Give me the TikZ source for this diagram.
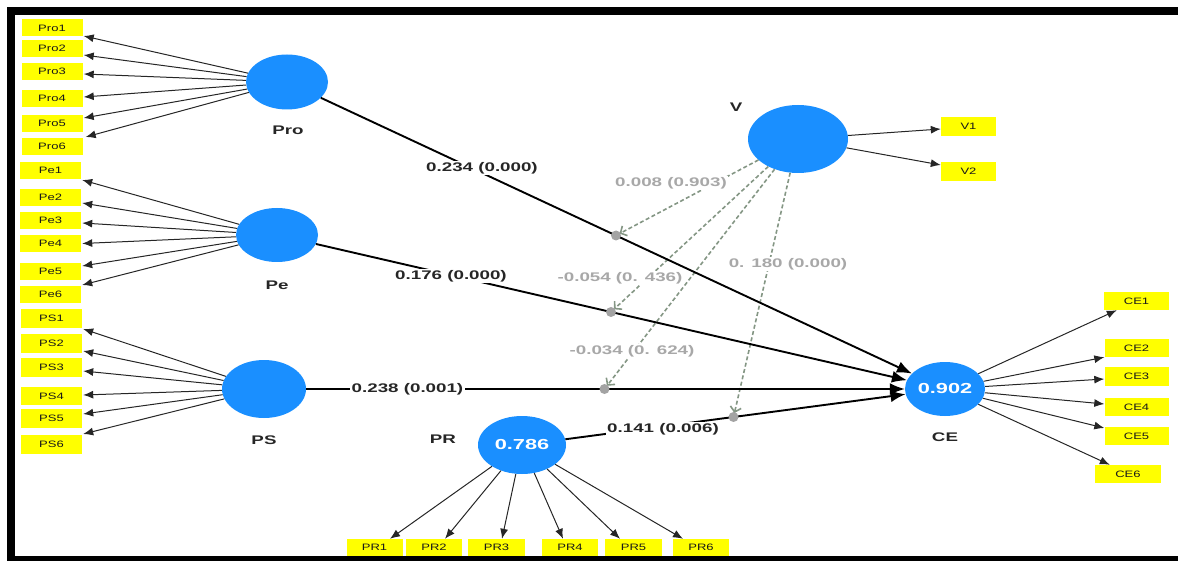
\documentclass[tikz,border=0pt]{standalone}
\usepackage{fontspec}
\newfontfamily\wsans[FakeStretch=1.5]{Liberation Sans}
\newfontfamily\isans[FakeStretch=1.4]{Liberation Sans}
\usetikzlibrary{shapes.geometric,arrows.meta,calc}
\definecolor{lvblue}{HTML}{1A8FFF}
\definecolor{indyellow}{HTML}{FFFF00}
\definecolor{modline}{HTML}{849684}
\definecolor{modtext}{HTML}{A8A8A8}
\definecolor{moddot}{HTML}{A3A3A3}
\begin{document}
\begin{tikzpicture}[x=1pt,y=-1pt,
  latent/.style={ellipse, fill=lvblue, inner sep=0pt, text=white,
    font=\wsans\bfseries\fontsize{14.5}{16}\selectfont},
  indicator/.style={fill=indyellow, minimum width=61, minimum height=17,
    inner sep=0pt, text=black!90, font=\isans\fontsize{9.3}{10}\selectfont},
  loading/.style={draw=black!85, line width=1pt, -{Latex[length=10pt,width=8pt]}},
  structpath/.style={draw=black, line width=1.9pt, -{Latex[length=15pt,width=12pt]}},
  modarrow/.style={draw=modline, line width=1.6pt, dash pattern=on 4pt off 2.5pt,
    -{Straight Barb[length=5pt,width=11pt]}, shorten >=4pt},
  coef/.style={fill=white, inner sep=1.5pt, text=black!85,
    font=\wsans\bfseries\fontsize{12.5}{14}\selectfont},
  modcoef/.style={coef, text=modtext},
  lvname/.style={text=black!85, font=\wsans\bfseries\fontsize{12.5}{14}\selectfont},
  moddotstyle/.style={circle, fill=moddot, minimum size=10, inner sep=0pt}
]
\useasboundingbox (0,0) rectangle (1178,561);

% indicator boxes
\node[indicator] (Pro1) at (52,28) {Pro1};
\node[indicator] (Pro2) at (52,48.5) {Pro2};
\node[indicator] (Pro3) at (52,71.5) {Pro3};
\node[indicator] (Pro4) at (52,98.5) {Pro4};
\node[indicator] (Pro5) at (52,123.5) {Pro5};
\node[indicator] (Pro6) at (52,146.5) {Pro6};
\node[indicator] (Pe1) at (50.5,170.5) {Pe1};
\node[indicator] (Pe2) at (50.5,197.5) {Pe2};
\node[indicator] (Pe3) at (50.5,220.5) {Pe3};
\node[indicator] (Pe4) at (50.5,243.5) {Pe4};
\node[indicator] (Pe5) at (50.5,271.5) {Pe5};
\node[indicator] (Pe6) at (50.5,294.5) {Pe6};
\node[indicator, minimum height=19] (PS1) at (51.5,318.5) {PS1};
\node[indicator, minimum height=19] (PS2) at (51.5,343.5) {PS2};
\node[indicator, minimum height=19] (PS3) at (51.5,367.5) {PS3};
\node[indicator, minimum height=18] (PS4) at (51.5,396) {PS4};
\node[indicator, minimum height=19] (PS5) at (51.5,418.5) {PS5};
\node[indicator, minimum height=19] (PS6) at (51.5,444.5) {PS6};
\node[indicator, minimum width=56] (PR1) at (374.5,547.5) {PR1};
\node[indicator, minimum width=56] (PR2) at (434,547.5) {PR2};
\node[indicator, minimum width=57] (PR3) at (496.5,547.5) {PR3};
\node[indicator, minimum width=56] (PR4) at (570,547.5) {PR4};
\node[indicator, minimum width=57] (PR5) at (633.5,547.5) {PR5};
\node[indicator, minimum width=56] (PR6) at (701,547.5) {PR6};
\node[indicator, minimum width=55, minimum height=19] (V1) at (968.5,126.5) {V1};
\node[indicator, minimum width=55, minimum height=19] (V2) at (968.5,171.5) {V2};
\node[indicator, minimum width=65, minimum height=18] (CE1) at (1136.5,301) {CE1};
\node[indicator, minimum width=64, minimum height=18] (CE2) at (1136.5,348) {CE2};
\node[indicator, minimum width=64, minimum height=19] (CE3) at (1136.5,376.5) {CE3};
\node[indicator, minimum width=64, minimum height=18] (CE4) at (1136.5,407) {CE4};
\node[indicator, minimum width=64, minimum height=18] (CE5) at (1136.5,436) {CE5};
\node[indicator, minimum width=66, minimum height=18] (CE6) at (1128,474) {CE6};

% latent variables
\node[latent, minimum width=82, minimum height=55] (Pro) at (287,82) {};
\node[latent, minimum width=82, minimum height=54] (Pe) at (277,235) {};
\node[latent, minimum width=84, minimum height=58] (PS) at (264,389) {};
\node[latent, minimum width=88, minimum height=58] (PR) at (522,445) {0.786};
\node[latent, minimum width=100, minimum height=68] (V) at (798,139) {};
\node[latent, minimum width=80, minimum height=54] (CE) at (945,389) {0.902};

% outer loadings
\draw[loading] (Pro) -- ([xshift=1,yshift=-8]Pro1.east);
\draw[loading] (Pro) -- ([xshift=1,yshift=-6.5]Pro2.east);
\draw[loading] (Pro) -- ([xshift=1,yshift=-2.5]Pro3.east);
\draw[loading] (Pro) -- ([xshift=1,yshift=1.5]Pro4.east);
\draw[loading] (Pro) -- ([xshift=1,yshift=5.5]Pro5.east);
\draw[loading] (Pro) -- ([xshift=3,yshift=9.5]Pro6.east);
\draw[loading] (Pe) -- ([xshift=1,yshift=-9.5]Pe1.east);
\draw[loading] (Pe) -- ([xshift=1,yshift=-5.5]Pe2.east);
\draw[loading] (Pe) -- ([xshift=1,yshift=-2.5]Pe3.east);
\draw[loading] (Pe) -- ([xshift=1]Pe4.east);
\draw[loading] (Pe) -- ([xshift=1,yshift=5.5]Pe5.east);
\draw[loading] (Pe) -- ([xshift=1,yshift=9.5]Pe6.east);
\draw[loading] (PS) -- ([xshift=1,yshift=-10.5]PS1.east);
\draw[loading] (PS) -- ([xshift=1,yshift=-7.5]PS2.east);
\draw[loading] (PS) -- ([xshift=1,yshift=-3.5]PS3.east);
\draw[loading] (PS) -- ([xshift=1,yshift=1]PS4.east);
\draw[loading] (PS) -- ([xshift=1,yshift=4.5]PS5.east);
\draw[loading] (PS) -- ([xshift=1,yshift=10.5]PS6.east);
\draw[loading] (PR) -- ([xshift=15.5]PR1.north);
\draw[loading] (PR) -- ([xshift=11]PR2.north);
\draw[loading] (PR) -- ([xshift=5.5]PR3.north);
\draw[loading] (PR) -- ([xshift=-7]PR4.north);
\draw[loading] (PR) -- ([xshift=-13.5]PR5.north);
\draw[loading] (PR) -- ([xshift=-18]PR6.north);
\draw[loading] (V) -- ([yshift=-2.5]V1.west);
\draw[loading] (V) -- ([yshift=6.5]V2.west);
\draw[loading] (CE) -- ([xshift=13]CE1.south west);
\draw[loading] (CE) -- (CE2.south west);
\draw[loading] (CE) -- ([yshift=-2.5]CE3.west);
\draw[loading] (CE) -- ([yshift=3]CE4.west);
\draw[loading] (CE) -- ([yshift=8]CE5.west);
\draw[loading] (CE) -- ([xshift=15]CE6.north west);

% moderating effects meet the paths at their midpoints
\coordinate (m1) at ($(Pro)!0.5!(CE)$);
\coordinate (m2) at ($(Pe)!0.5!(CE)$);
\coordinate (m3) at ($(PS)!0.5!(CE)$);
\coordinate (m4) at ($(PR)!0.5!(CE)$);
\draw[modarrow] (V) -- (m1);
\draw[modarrow] (V) -- (m2);
\draw[modarrow] (V) -- (m3);
\draw[modarrow] (V) -- (m4);

% structural paths
\draw[structpath] (Pro) -- (CE);
\draw[structpath] (Pe) -- (CE);
\draw[structpath] (PS) -- (CE);
\draw[structpath] (PR) -- (CE);

\node[moddotstyle] (d1) at (m1) {};
\node[moddotstyle] (d2) at (m2) {};
\node[moddotstyle] (d3) at (m3) {};
\node[moddotstyle] (d4) at (m4) {};

% path coefficients
\node[coef] (c1) at (482,168) {0.234 (0.000)};
\node[coef] (c2) at (451,276) {0.176 (0.000)};
\node[coef] (c3) at (407.5,389) {0.238 (0.001)};
\node[coef] (c4) at (663,429) {0.141 (0.006)};
\node[modcoef] (c5) at (671,183) {0.008 (0.903)};
\node[modcoef] (c6) at (620,278) {-0.054 (0. 436)};
\node[modcoef] (c7) at (632,351) {-0.034 (0. 624)};
\node[modcoef] (c8) at (788,264) {0. 180 (0.000)};

% latent variable names
\node[lvname] (nPro) at (288,130) {Pro};
\node[lvname] (nPe) at (277,285) {Pe};
\node[lvname] (nPS) at (264,440) {PS};
\node[lvname] (nPR) at (443,439) {PR};
\node[lvname] (nV) at (736,107) {V};
\node[lvname] (nCE) at (945,437) {CE};

% frame
\fill[black] (7,7) rectangle (1178,15);
\fill[black] (7,7) rectangle (15,561);
\fill[black] (7,556) rectangle (1178,561);
\end{tikzpicture}
\end{document}
